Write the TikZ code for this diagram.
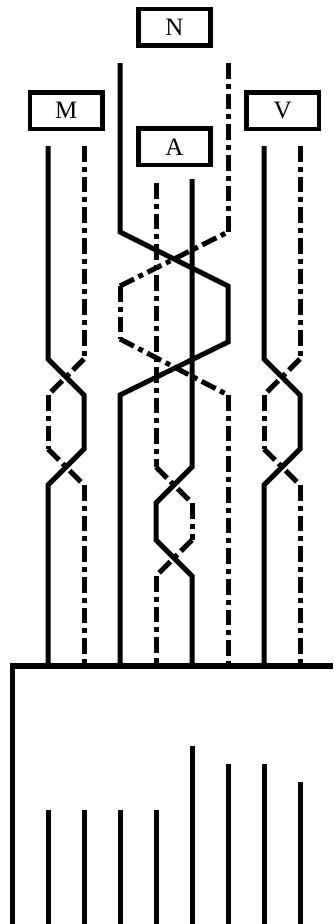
\documentclass[tikz,border=0pt]{standalone}
\usepackage{fontspec}
\setmainfont{Liberation Serif}
\tikzset{
  solidline/.style={line width=5pt, line join=miter},
  dashline/.style={line width=5pt, dash pattern=on 15.67pt off 5pt on 5pt off 5pt},
  labelbox/.style={draw, line width=4.6pt, minimum width=72.5pt, minimum height=36.6pt, inner sep=0pt, font=\fontsize{25}{25}\selectfont},
}
\begin{document}
\begin{tikzpicture}[x=1pt, y=-1pt]
  \useasboundingbox (0,0) rectangle (333,924);
  \node[labelbox] (N) at (174.5,27.2) {\raisebox{-2.5pt}{N}};
  \node[labelbox] (M) at (66.2,110.7) {\raisebox{-1.5pt}{M}};
  \node[labelbox] (A) at (174.5,146.8) {\raisebox{-3pt}{A}};
  \node[labelbox] (V) at (282.7,110.7) {\raisebox{-1.5pt}{V}};
  % small twists
  \foreach \xa/\xb in {48/84, 264/300} {
    \draw[solidline] (\xa,146) -- (\xa,359) -- (\xb,395) -- (\xb,449) -- (\xa,485) -- (\xa,666);
    \draw[dashline] (\xb,146) -- (\xb,359);
    \draw[dashline] (\xb,359) -- (\xa,395);
    \draw[dashline] (\xa,395) -- (\xa,449);
    \draw[dashline] (\xa,449) -- (\xb,485);
    \draw[dashline] (\xb,485) -- (\xb,666);
  }
  % wide twist
  \draw[solidline] (120,63) -- (120,232) -- (228,286) -- (228,342) -- (120,395) -- (120,666);
  \draw[dashline] (228,63) -- (228,232);
  \draw[dashline] (120,286) -- (228,232);
  \draw[dashline] (120,286) -- (120,339);
  \draw[dashline] (120,339) -- (228,395);
  \draw[dashline] (228,395) -- (228,666);
  % middle twist
  \draw[solidline] (192,179) -- (192,467) -- (156,503) -- (156,540) -- (192,576) -- (192,666);
  \draw[dashline] (156,183) -- (156,467);
  \draw[dashline] (156,467) -- (192,503);
  \draw[dashline] (192,503) -- (192,540);
  \draw[dashline] (192,540) -- (156,576);
  \draw[dashline] (156,576) -- (156,666);
  % lower part
  \draw[line width=5.4pt] (12.3,924) -- (12.3,666) -- (333,666);
  \foreach \x/\y in {48/810, 84/810, 120/810, 156/810, 192/746, 228/764, 264/764, 300/782} {
    \draw[line width=5pt] (\x,\y) -- (\x,924);
  }
\end{tikzpicture}
\end{document}
